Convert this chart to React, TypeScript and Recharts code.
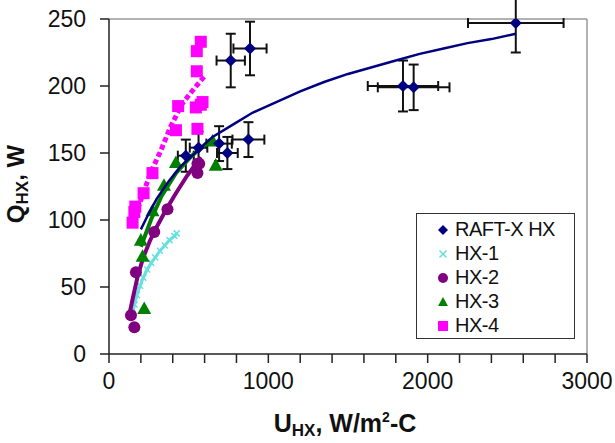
import React from 'react';
import { ScatterChart, Scatter, XAxis, YAxis, ErrorBar, ReferenceLine, Label } from 'recharts';

// RAFT-X HX measured points with uncertainty
const raftU = [2553, 1845, 1912, 885, 764, 875, 691, 743, 562, 482];
const raftQ = [247, 200, 199, 228, 219, 160, 157, 150, 154, 148];
const raftErrU = [300, 221, 225, 104, 89, 100, 80, 65, 55, 50];
const raftErrQ = [22, 19, 17, 20, 20, 13, 13, 12, 12, 12];

// RAFT-X fitted curve
const raftFitU = [200, 250, 300, 375, 450, 550, 650, 775, 900, 1050, 1200, 1350, 1500, 1650, 1800, 1950, 2100, 2250, 2400, 2553];
const raftFitQ = [93, 105, 116, 129, 140, 151, 162, 171, 180, 188, 196, 203, 209, 214, 219, 224, 228, 232, 235, 239];

// HX-1
const hx1U = [148, 160, 175, 195, 215, 240, 265, 290, 320, 350, 380, 410, 425];
const hx1Q = [30, 37, 44, 51, 57, 63, 68, 72, 77, 81, 85, 88, 90];

// HX-2
const hx2U = [159, 138, 169, 284, 367, 555, 566, 555];
const hx2Q = [20, 29, 61, 91, 108, 142, 142, 135];
const hx2TrailU = [125, 150, 180, 215, 255, 300, 360, 420, 490, 576];
const hx2TrailQ = [28, 42, 58, 72, 84, 95, 108, 120, 133, 147];

// HX-3
const hx3U = [221, 211, 200, 273, 345, 420, 670, 650];
const hx3Q = [34, 73, 85, 107, 126, 143, 141, 159];
const hx3TrailU = [200, 263, 330, 420, 520, 639];
const hx3TrailQ = [80, 100, 118, 135, 148, 160];

// HX-4
const hx4U = [576, 551, 551, 587, 576, 545, 434, 555, 420, 273, 217, 159, 148, 165];
const hx4Q = [233, 226, 211, 188, 186, 184, 185, 168, 167, 135, 120, 106, 98, 110];
const hx4TrailU = [148, 200, 260, 326, 388, 461, 534, 597];
const hx4TrailQ = [97, 115, 135, 152, 170, 187, 198, 207];

const xTicks = [0, 200, 400, 600, 800, 1000, 1200, 1400, 1600, 1800, 2000, 2200, 2400, 2600, 2800, 3000];
const yTicks = [0, 50, 100, 150, 200, 250];

const legendNames = ['RAFT-X HX', 'HX-1', 'HX-2', 'HX-3', 'HX-4'];
const legendColors = ['#000080', '#66E0E0', '#800080', '#008000', '#FF00FF'];

const pts = (us: number[], qs: number[]) => us.map((u, i) => ({ u, q: qs[i] }));

const raftData = raftU.map((u, i) => ({ u, q: raftQ[i], eu: raftErrU[i], eq: raftErrQ[i] }));

const FONT = "Arial, 'Liberation Sans', sans-serif";

const Diamond = ({ cx, cy, fill, r = 6 }: any) => (
  <path d={`M${cx},${cy - r}L${cx + r},${cy}L${cx},${cy + r}L${cx - r},${cy}Z`} fill={fill} />
);
const Cross = ({ cx, cy, fill, r = 3 }: any) => (
  <path d={`M${cx - r},${cy - r}L${cx + r},${cy + r}M${cx - r},${cy + r}L${cx + r},${cy - r}`} stroke={fill} strokeWidth={1.5} />
);
const Dot = ({ cx, cy, fill, r = 5 }: any) => <circle cx={cx} cy={cy} r={r} fill={fill} />;
const Tri = ({ cx, cy, fill, r = 6 }: any) => (
  <path d={`M${cx},${cy - r}L${cx + r},${cy + r * 0.8}L${cx - r},${cy + r * 0.8}Z`} fill={fill} />
);
const Sq = ({ cx, cy, fill, r = 5 }: any) => <rect x={cx - r} y={cy - r} width={2 * r} height={2 * r} fill={fill} />;
const Nothing = () => <g />;

const markers = [Diamond, Cross, Dot, Tri, Sq];

function LegendBox() {
  return (
    <div
      style={{
        position: 'absolute',
        left: 416,
        top: 213,
        width: 159,
        height: 126,
        border: '1.5px solid #333',
        background: '#fff',
        fontFamily: FONT,
        fontSize: 20,
        color: '#111',
        boxSizing: 'border-box',
        paddingTop: 3,
      }}
    >
      {legendNames.map((name, i) => {
        const M = markers[i];
        return (
          <div key={name} style={{ display: 'flex', alignItems: 'center', height: 24, letterSpacing: -0.5 }}>
            <svg width={38} height={20} style={{ flex: 'none' }}>
              <M cx={26} cy={11} fill={legendColors[i]} r={i === 1 ? 3.5 : 5} />
            </svg>
            <span>{name}</span>
          </div>
        );
      })}
    </div>
  );
}

export default function App() {
  return (
    <div style={{ position: 'absolute', left: 0, top: 0, width: 615, height: 443, background: '#fff' }}>
      <ScatterChart width={615} height={443} margin={{ top: 19, right: 28, bottom: 9, left: 9 }}>
        <XAxis
          type="number"
          dataKey="u"
          domain={[0, 3000]}
          ticks={xTicks}
          interval={0}
          tickFormatter={(v: number) => (v % 1000 === 0 ? String(v) : '')}
          height={80}
          tickSize={9}
          tickMargin={10}
          stroke="#222"
          strokeWidth={1.5}
          tick={{ fill: '#111', fontSize: 23, fontFamily: FONT }}
        >
          <Label
            content={(props: any) => {
              const vb = props.viewBox || { x: 109, width: 478 };
              return (
                <text x={vb.x + vb.width / 2 - 3} y={432} textAnchor="middle" fontFamily={FONT} fontWeight="bold" fontSize={25} fill="#111">
                  U<tspan fontSize={17} dy={4}>HX</tspan>
                  <tspan dy={-4}>, W/m</tspan>
                  <tspan fontSize={14} dy={-10}>2</tspan>
                  <tspan dy={10}>-C</tspan>
                </text>
              );
            }}
          />
        </XAxis>
        <YAxis
          type="number"
          dataKey="q"
          domain={[0, 250]}
          ticks={yTicks}
          interval={0}
          allowDataOverflow
          width={100}
          tickSize={9}
          tickMargin={14}
          stroke="#222"
          strokeWidth={1.5}
          tick={{ fill: '#111', fontSize: 23, fontFamily: FONT }}
        >
          <Label
            content={() => (
              <text x={24} y={184} transform="rotate(-90 24 184)" textAnchor="middle" fontFamily={FONT} fontWeight="bold" fontSize={24} fill="#111">
                Q<tspan fontSize={17} dy={4}>HX</tspan>
                <tspan dy={-4}>, W</tspan>
              </text>
            )}
          />
        </YAxis>
        <ReferenceLine y={250} stroke="#999" strokeWidth={1.5} />
        <ReferenceLine x={3000} stroke="#999" strokeWidth={1.5} />

        <Scatter name="HX-4 trail" data={pts(hx4TrailU, hx4TrailQ)} line={{ stroke: '#FF00FF', strokeWidth: 5, strokeDasharray: '5 3' }} shape={Nothing} legendType="none" isAnimationActive={false} />
        <Scatter name="HX-1" data={pts(hx1U, hx1Q)} fill={legendColors[1]} line={{ stroke: '#66E0E0', strokeWidth: 3 }} shape={(p: any) => <Cross {...p} fill={legendColors[1]} />} isAnimationActive={false} />
        <Scatter name="HX-2 trail" data={pts(hx2TrailU, hx2TrailQ)} line={{ stroke: '#800080', strokeWidth: 4 }} shape={Nothing} legendType="none" isAnimationActive={false} />
        <Scatter name="HX-3 trail" data={pts(hx3TrailU, hx3TrailQ)} line={{ stroke: '#008000', strokeWidth: 4 }} shape={Nothing} legendType="none" isAnimationActive={false} />
        <Scatter name="HX-2" data={pts(hx2U, hx2Q)} shape={(p: any) => <Dot {...p} fill={legendColors[2]} r={6} />} isAnimationActive={false} />
        <Scatter name="HX-3" data={pts(hx3U, hx3Q)} shape={(p: any) => <Tri {...p} fill={legendColors[3]} r={7} />} isAnimationActive={false} />
        <Scatter name="HX-4" data={pts(hx4U, hx4Q)} shape={(p: any) => <Sq {...p} fill={legendColors[4]} r={6} />} isAnimationActive={false} />
        <Scatter name="RAFT-X fit" data={pts(raftFitU, raftFitQ)} line={{ stroke: '#000080', strokeWidth: 2.5 }} shape={Nothing} legendType="none" isAnimationActive={false} />
        <Scatter name="RAFT-X HX" data={raftData} shape={(p: any) => <Diamond {...p} fill={legendColors[0]} r={6} />} isAnimationActive={false}>
          <ErrorBar dataKey="eu" direction="x" width={5} stroke="#111" strokeWidth={2} />
          <ErrorBar dataKey="eq" direction="y" width={5} stroke="#111" strokeWidth={2} />
        </Scatter>
      </ScatterChart>
      <LegendBox />
    </div>
  );
}
